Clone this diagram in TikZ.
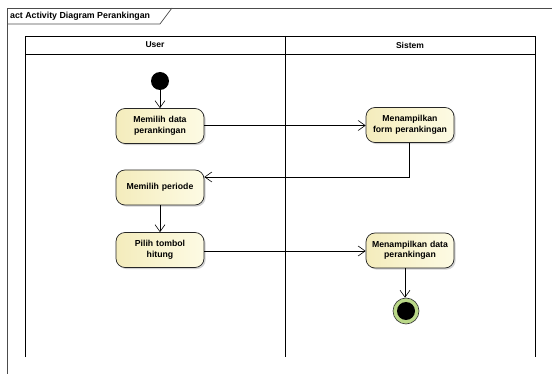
\documentclass[tikz,border=0pt]{standalone}
\usepackage{fontspec}
\setmainfont{Liberation Sans}
\usetikzlibrary{arrows.meta,shadows,positioning}
\definecolor{actL}{RGB}{244,236,188}
\definecolor{actR}{RGB}{253,251,228}
\definecolor{finG}{RGB}{186,216,136}
\begin{document}
\begin{tikzpicture}[x=1pt,y=-1pt,
  act/.style={draw=black!85, line width=0.7pt, rounded corners=9pt, minimum width=88pt, minimum height=35pt,
    text width=86pt, align=center, font=\fontsize{8.7}{10.5}\selectfont\bfseries, inner sep=1pt,
    left color=actL, right color=actR,
    drop shadow={shadow xshift=1.6pt, shadow yshift=-1.6pt, fill=black!35, opacity=0.5}},
  flow/.style={draw=black, line width=0.6pt, -{Straight Barb[length=7pt,width=10pt,line width=0.6pt]}},
  lane/.style={draw=black, line width=0.8pt},
  hdr/.style={font=\fontsize{8.5}{10}\selectfont\bfseries}
]
\useasboundingbox (0,0) rectangle (552,374);
% frame
\draw[line width=0.7pt, black!70] (7,374) -- (7,8) -- (552,8);
\draw[line width=0.7pt, black!70] (7,24) -- (160,24) -- (172,8);
\node[anchor=west, font=\fontsize{8.8}{10}\selectfont\bfseries, inner sep=0pt] (title) at (10,16.5) {act Activity Diagram Perankingan};
% swimlanes
\draw[lane] (25,357) -- (25,36) -- (535,36) -- (535,357);
\draw[lane] (25,54) -- (535,54);
\draw[lane] (285,36) -- (285,357);
\node[hdr] (huser) at (155,45) {User};
\node[hdr] (hsis) at (410,45) {Sistem};
% nodes
\node[circle, fill=black, minimum size=18pt, inner sep=0pt] (init) at (160,81) {};
\node[act] (a1) at (160,126) {Memilih data\\perankingan};
\node[act] (a2) at (410,125) {Menampilkan\\form perankingan};
\node[act] (a3) at (160,187.5) {Memilih periode};
\node[act] (a4) at (160,250) {Pilih tombol\\hitung};
\node[act] (a5) at (410,250.5) {Menampilkan data\\perankingan};
\node[circle, draw=black!80, line width=0.6pt, fill=finG, minimum size=26pt, inner sep=0pt] (fin) at (406,311) {};
\node[circle, fill=black, minimum size=18pt, inner sep=0pt] (finin) at (406,311) {};
% flows
\draw[flow] (init) -- (a1);
\draw[flow] (a1.east |- 0,125.5) -- (a2.west |- 0,125.5);
\coordinate (c1) at (409,177);
\draw[flow] (a2.south -| c1) -- (c1) -- (a3.east |- c1);
\draw[flow] (a3) -- (a4);
\draw[flow] (a4.east |- 0,251) -- (a5.west |- 0,251);
\draw[flow] (a5.south -| 405,0) -- (fin.north -| 405,0);
\end{tikzpicture}
\end{document}
